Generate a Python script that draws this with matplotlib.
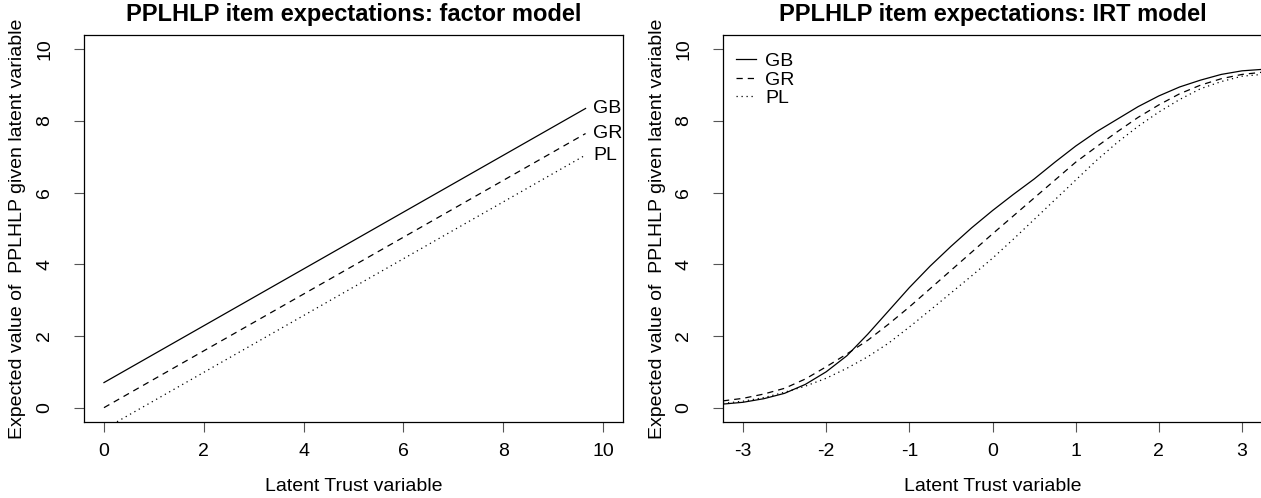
import matplotlib
matplotlib.use("Agg")
import matplotlib.pyplot as plt

plt.rcParams['font.family'] = ['Liberation Sans', 'DejaVu Sans']
plt.rcParams['axes.unicode_minus'] = False

# factor model: straight lines, end points
fac_x = [0.0, 9.65]
fac_gb = [0.70, 8.35]
fac_gr = [0.00, 7.65]
fac_pl = [-0.60, 7.05]

# IRT model: expected item scores
irt_x = [-3.24, -3.0, -2.75, -2.5, -2.25, -2.0, -1.75, -1.5, -1.25, -1.0, -0.75, -0.5, -0.25,
         0.0, 0.25, 0.5, 0.75, 1.0, 1.25, 1.5, 1.75, 2.0, 2.25, 2.5, 2.75, 3.0, 3.24]
irt_gb = [0.10, 0.15, 0.25, 0.40, 0.65, 1.00, 1.45, 2.05, 2.70, 3.35, 3.95, 4.50, 5.02,
          5.50, 5.95, 6.38, 6.85, 7.30, 7.70, 8.05, 8.40, 8.70, 8.95, 9.14, 9.30, 9.40, 9.44]
irt_gr = [0.19, 0.26, 0.38, 0.54, 0.80, 1.14, 1.50, 1.88, 2.33, 2.81, 3.32, 3.83, 4.34,
          4.85, 5.35, 5.85, 6.35, 6.85, 7.28, 7.70, 8.10, 8.45, 8.76, 9.00, 9.18, 9.30, 9.36]
irt_pl = [0.12, 0.18, 0.28, 0.43, 0.60, 0.82, 1.10, 1.42, 1.80, 2.25, 2.72, 3.20, 3.68,
          4.17, 4.70, 5.25, 5.80, 6.35, 6.90, 7.40, 7.85, 8.25, 8.60, 8.90, 9.10, 9.25, 9.30]

labels = ["GB", "GR", "PL"]
styles = ['-', (0, (5, 4)), (0, (1, 3))]

fs = 14
W, H = 1261, 498
fig = plt.figure(figsize=(W / 100, H / 100), dpi=100)

# axes boxes in pixels (left, top, right, bottom)
boxes = [(84, 35, 623, 422), (723, 35, 1262, 422)]
axes = []
for l, t, r, b in boxes:
    ax = fig.add_axes([l / W, 1 - b / H, (r - l) / W, (b - t) / H])
    axes.append(ax)

ax1, ax2 = axes

# left panel
for y, ls, lab in zip([fac_gb, fac_gr, fac_pl], styles, labels):
    ax1.plot(fac_x, y, color='black', lw=0.9, linestyle=ls)
    ax1.text(9.8, y[-1], lab, ha='left', va='center', fontsize=fs, clip_on=True)
ax1.set_xlim(-0.4, 10.4)
ax1.set_ylim(-0.4, 10.4)
ax1.set_xticks([0, 2, 4, 6, 8, 10])
ax1.set_title("PPLHLP item expectations: factor model", fontsize=17, fontweight='bold', pad=10)

# right panel
for y, ls, lab in zip([irt_gb, irt_gr, irt_pl], styles, labels):
    ax2.plot(irt_x, y, color='black', lw=0.9, linestyle=ls, label=lab)
ax2.set_xlim(-3.24, 3.24)
ax2.set_ylim(-0.4, 10.4)
ax2.set_xticks([-3, -2, -1, 0, 1, 2, 3])
ax2.set_title("PPLHLP item expectations: IRT model", fontsize=17, fontweight='bold', pad=10)
ax2.legend(loc='upper left', bbox_to_anchor=(0.024, 0.955), frameon=False, fontsize=fs,
           handlelength=1.05, handletextpad=0.45, labelspacing=0.05, borderpad=0,
           borderaxespad=0)

for ax in axes:
    ax.set_yticks([0, 2, 4, 6, 8, 10])
    ax.tick_params(axis='both', length=7, width=0.8, color='#555555', labelsize=fs)
    ax.tick_params(axis='x', pad=8)
    ax.tick_params(axis='y', pad=15, labelrotation=90)
    for lbl in ax.get_yticklabels():
        lbl.set_va('center')
    for sp in ax.spines.values():
        sp.set_linewidth(0.9)
    ax.set_xlabel("Latent Trust variable", fontsize=fs)
    ax.set_ylabel("Expected value of  PPLHLP given latent variable", fontsize=fs)
    ax.xaxis.set_label_coords(0.5, -(486 - 422) / 387)
    ax.xaxis.label.set_va('center')
    ax.yaxis.set_label_coords(-(66) / 539, 0.5)
    ax.yaxis.label.set_va('center')

fig.savefig("out.png", dpi=100)
